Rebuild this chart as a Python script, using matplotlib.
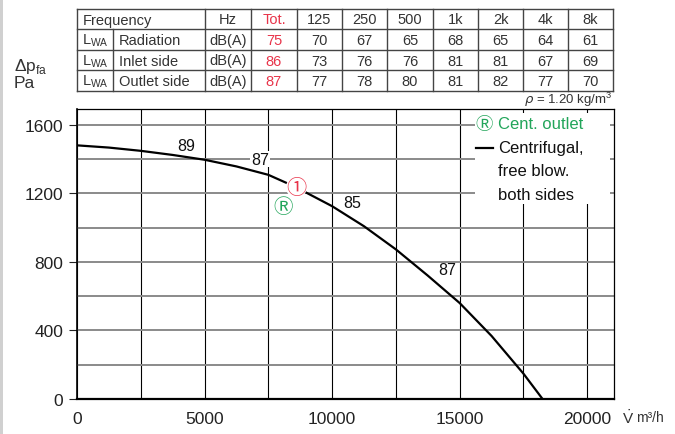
import matplotlib
matplotlib.use('Agg')
import matplotlib.pyplot as plt
from matplotlib.patches import Rectangle

# sound power table
freq_bands = ['125', '250', '500', '1k', '2k', '4k', '8k']
row_names = ['Radiation', 'Inlet side', 'Outlet side']
tot_levels = [75, 86, 87]
radiation = [70, 67, 65, 68, 65, 64, 61]
inlet_side = [73, 76, 76, 81, 81, 67, 69]
outlet_side = [77, 78, 80, 81, 82, 77, 70]

# fan curve, volume flow m3/h vs pressure Pa
flow = [0, 1250, 2500, 3750, 5000, 6250, 7500, 8600, 9000, 10000, 11250,
        12500, 13750, 15000, 16250, 17500, 18250]
pressure = [1480, 1467, 1448, 1424, 1396, 1357, 1308, 1235, 1203, 1125, 1008,
            873, 720, 560, 368, 148, 0]

# noise labels along the curve
noise_x = [4270, 7180, 10780, 14510]
noise_y = [1477, 1400, 1145, 753]
noise_txt = ['89', '87', '85', '87']

RED = '#e8344a'
GREEN = '#22a55a'
DARK = '#333333'
plt.rcParams['font.family'] = ['Liberation Sans', 'Noto Sans CJK JP', 'DejaVu Sans']
SYM = ['Noto Sans CJK JP', 'DejaVu Sans']

fig = plt.figure(figsize=(6.75, 4.35), dpi=100)
W, H = 675, 435
ax = fig.add_axes([77 / W, 1 - 400 / H, (614 - 77) / W, (400 - 109.5) / H])

ax.plot(flow, pressure, color='black', lw=1.6, zorder=3)
ax.set_xlim(0, 21050)
ax.set_ylim(0, 1695)

ax.set_xticks([0, 5000, 10000, 15000, 20000])
ax.set_xticks([2500, 7500, 12500, 17500], minor=True)
ax.set_yticks([0, 400, 800, 1200, 1600])
ax.set_yticks([200, 600, 1000, 1400], minor=True)
ax.grid(axis='y', which='both', color='#8a8a8a', lw=1.4)
ax.grid(axis='x', which='both', color='black', lw=0.8)
ax.set_axisbelow(True)
ax.tick_params(axis='x', which='both', length=0, labelsize=12.5, pad=9, colors='#222222')
ax.tick_params(axis='y', which='major', length=6, width=0.8, labelsize=12.5, pad=4, colors='#222222')
ax.tick_params(axis='y', which='minor', length=0)
for s in ax.spines.values():
    s.set_color('black')
    s.set_linewidth(0.9)
ax.spines['bottom'].set_linewidth(1.6)
ax.spines['left'].set_linewidth(1.2)

# white box behind the legend text
ax.add_patch(Rectangle((15610, 1135), 20880 - 15610, 1668 - 1135,
                       facecolor='white', edgecolor='none', zorder=1))
ax.text(15600, 1605, 'Ⓡ', color=GREEN, fontsize=12.5, va='center', family=SYM, zorder=4)
ax.text(16500, 1605, 'Cent. outlet', color=GREEN, fontsize=12, va='center', zorder=4)
ax.plot([15650, 16300], [1465, 1465], color='black', lw=1.6, zorder=4)
ax.text(16500, 1465, 'Centrifugal,', fontsize=12, va='center', color='#111111', zorder=4)
ax.text(16500, 1335, 'free blow.', fontsize=12, va='center', color='#111111', zorder=4)
ax.text(16500, 1195, 'both sides', fontsize=12, va='center', color='#111111', zorder=4)

for x, y, t in zip(noise_x, noise_y, noise_txt):
    ax.text(x, y, t, fontsize=11.5, ha='center', va='center', color='#111111', zorder=4,
            bbox=dict(boxstyle='square,pad=0.05', fc='white', ec='none') if t == '87' and y > 1300 else None)
ax.text(8600, 1235, '①', color=RED, fontsize=14.5, ha='center', va='center', family=SYM, zorder=5,
        bbox=dict(boxstyle='circle,pad=0.0', fc='white', ec='none'))
ax.text(8080, 1125, 'Ⓡ', color=GREEN, fontsize=14, ha='center', va='center', family=SYM, zorder=5)

# overlay in pixel coordinates for table and outside labels
ov = fig.add_axes([0, 0, 1, 1], zorder=-1)
ov.set_xlim(0, W)
ov.set_ylim(H, 0)
ov.axis('off')
ov.add_patch(Rectangle((0, 0), 2.5, H, facecolor='#d0d0d0', edgecolor='none'))

cols = [77, 113, 205, 251, 297, 342, 387, 433, 478, 523, 568, 613]
rows = [10, 30, 51, 71, 92]
lc, lw = '#444444', 1.0
for y in rows:
    ov.plot([cols[0], cols[-1]], [y, y], color=lc, lw=lw)
for i, x in enumerate(cols):
    top = rows[1] if i == 1 else rows[0]
    ov.plot([x, x], [top, rows[-1]], color=lc, lw=lw)

def cell(x0, x1, r, text, color=DARK, ha='center'):
    yc = (rows[r] + rows[r + 1]) / 2 + 0.5
    xx = (x0 + x1) / 2 if ha == 'center' else x0 + 6
    ov.text(xx, yc, text, ha=ha, va='center', fontsize=10.5, color=color)

cell(cols[0], cols[2], 0, 'Frequency', ha='left')
cell(cols[2], cols[3], 0, 'Hz')
cell(cols[3], cols[4], 0, 'Tot.', color=RED)
for j, f in enumerate(freq_bands):
    cell(cols[4 + j], cols[5 + j], 0, f)
for r, (name, tot, vals) in enumerate(zip(row_names, tot_levels, [radiation, inlet_side, outlet_side])):
    cell(cols[0], cols[1], r + 1, r'L$_\mathregular{WA}$')
    cell(cols[1], cols[2], r + 1, name, ha='left')
    cell(cols[2], cols[3], r + 1, 'dB(A)')
    cell(cols[3], cols[4], r + 1, str(tot), color=RED)
    for j, v in enumerate(vals):
        cell(cols[4 + j], cols[5 + j], r + 1, str(v))

ov.text(613, 100, r'$\rho$ = 1.20 kg/m$^\mathregular{3}$', ha='right', va='center', fontsize=9.5, color=DARK)
ov.text(14, 66, r'Δp$_\mathregular{fa}$', ha='left', va='center', fontsize=12.5, color=DARK)
ov.text(14, 84, 'Pa', ha='left', va='center', fontsize=12.5, color=DARK)
ov.text(622, 418, r'$\dot{\mathregular{V}}$', ha='left', va='center', fontsize=11, color=DARK)
ov.text(636, 418, 'm³/h', ha='left', va='center', fontsize=10, color=DARK)

fig.savefig('out.png', dpi=100)
